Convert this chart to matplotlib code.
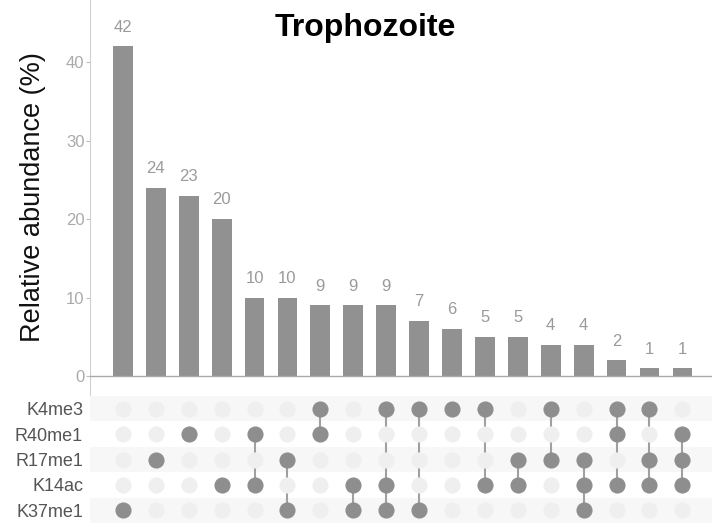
# plot.py
# UpSet-style chart: Trophozoite
import matplotlib.pyplot as plt
import numpy as np

plt.rcParams['font.family'] = ['Liberation Sans', 'DejaVu Sans']

marques = ["K4me3", "R40me1", "R17me1", "K14ac", "K37me1"]
abondance = [42, 24, 23, 20, 10, 10, 9, 9, 9, 7, 6, 5, 5, 4, 4, 2, 1, 1]
combinaisons = [
    ["K37me1"],
    ["R17me1"],
    ["R40me1"],
    ["K14ac"],
    ["R40me1", "K14ac"],
    ["R17me1", "K37me1"],
    ["K4me3", "R40me1"],
    ["K14ac", "K37me1"],
    ["K4me3", "K14ac", "K37me1"],
    ["K4me3", "K37me1"],
    ["K4me3"],
    ["K4me3", "K14ac"],
    ["R17me1", "K14ac"],
    ["K4me3", "R17me1"],
    ["R17me1", "K14ac", "K37me1"],
    ["K4me3", "R40me1", "K14ac"],
    ["K4me3", "R17me1", "K14ac"],
    ["R40me1", "R17me1", "K14ac"],
]
yticks = [0, 10, 20, 30, 40]

gris_barre = "#919191"
gris_point = "#8e8e8e"
gris_vide = "#efefef"

fig = plt.figure()
fig.set_size_inches(7.14, 5.32, forward=True)

x = np.arange(len(abondance))
xlim = (-1.0, 17.9)

# barres
ax = fig.add_axes([90 / 714, 1 - 395 / 532, 622 / 714, 395 / 532])
ax.bar(x, abondance, width=0.6, color=gris_barre, zorder=2)
for xi, v in zip(x, abondance):
    ax.text(xi, v + 1.5, str(v), ha="center", va="bottom",
            fontsize=12, color="#9a9a9a")
ax.axhline(0, color="#aaaaaa", linewidth=1, zorder=3)
ax.set_xlim(*xlim)
ax.set_ylim(-2.4, 47.9)
ax.set_xticks([])
ax.set_yticks(yticks)
ax.tick_params(axis="y", colors="#bbbbbb", labelcolor="#aaaaaa",
               labelsize=12, length=3, width=0.8, pad=1)
for s in ["top", "right", "bottom"]:
    ax.spines[s].set_visible(False)
ax.spines["left"].set_color("#d0d0d0")
ax.set_ylabel("Relative abundance (%)", fontsize=19.5, color="#111111",
              labelpad=14)

# matrice
axm = fig.add_axes([90 / 714, 9 / 532, 622 / 714, 127 / 532])
axm.set_xlim(*xlim)
axm.set_ylim(len(marques) - 0.5, -0.5)
for i in range(len(marques)):
    if i % 2 == 0:
        axm.axhspan(i - 0.5, i + 0.5, color="#f7f7f7", linewidth=0, zorder=0)
for xi, combi in zip(x, combinaisons):
    rangs = [marques.index(m) for m in combi]
    for i in range(len(marques)):
        c = gris_point if i in rangs else gris_vide
        axm.scatter(xi, i, s=135, color=c, linewidths=0, zorder=3)
    if len(rangs) > 1:
        axm.plot([xi, xi], [min(rangs), max(rangs)], color="#a0a0a0",
                 linewidth=1.5, zorder=2)
axm.set_xticks([])
axm.set_yticks(range(len(marques)))
axm.set_yticklabels(marques, fontsize=13, color="#555555")
axm.tick_params(axis="y", length=0, pad=5)
for s in axm.spines.values():
    s.set_visible(False)

fig.text(365 / 714, 1 - 28 / 532, "Trophozoite", ha="center", va="center",
         fontsize=23, fontweight="bold", color="black")

plt.savefig("out.png", format="png", dpi=100)
